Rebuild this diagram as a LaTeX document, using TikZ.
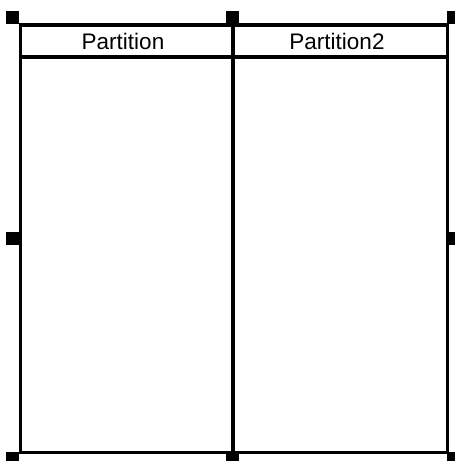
\documentclass[tikz,border=0pt]{standalone}
\usepackage{fontspec}
\setmainfont{Liberation Sans}
\begin{document}
\begin{tikzpicture}[x=1pt,y=-1pt,
  lanebox/.style={draw=black, line width=3.2pt, inner sep=0pt, outer sep=0pt, anchor=north west, minimum height=427.5pt},
  headbox/.style={draw=black, line width=3.2pt, inner sep=0pt, outer sep=0pt, anchor=north west, minimum height=32pt},
  lanelabel/.style={inner sep=0pt, font=\fontsize{22.5}{27}\selectfont},
  handle/.style={fill=black, draw=none, inner sep=0pt, minimum size=13pt}]
\useasboundingbox (0,0) rectangle (455,461);
\fill[white] (0,0) rectangle (455,461);
\node[lanebox, minimum width=212.5pt] (lane1) at (20.5,25) {};
\node[lanebox, minimum width=214.5pt] (lane2) at (233,25) {};
\node[headbox, minimum width=212.5pt] (head1) at (20.5,25) {};
\node[headbox, minimum width=214.5pt] (head2) at (233,25) {};
\node[lanelabel] (t1) at (123,41) {Partition};
\node[lanelabel] (t2) at (337,41) {Partition2};
\node[handle] (h1) at (12.5,17.5) {};
\node[handle] (h2) at (232.75,17.5) {};
\node[handle] (h3) at (453,17.5) {};
\node[handle] (h4) at (12.5,238) {};
\node[handle] (h5) at (453,238) {};
\node[handle] (h6) at (12.5,458) {};
\node[handle] (h7) at (232.75,458) {};
\node[handle] (h8) at (453,458) {};
\end{tikzpicture}
\end{document}
